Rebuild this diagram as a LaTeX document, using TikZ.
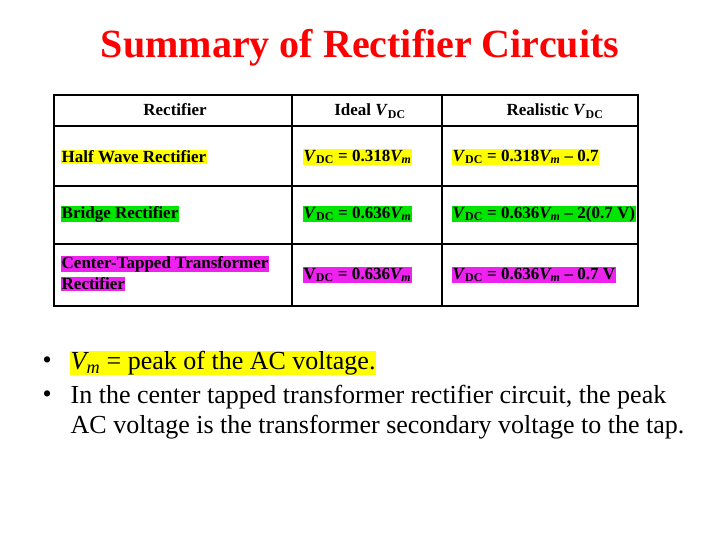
\documentclass[tikz,border=0pt]{standalone}
\usepackage{fontspec}
\setmainfont{Liberation Serif}
\begin{document}
\begin{tikzpicture}[x=1pt,y=-1pt,
  cell/.style={anchor=west,inner sep=0.5pt,font=\fontsize{17}{20}\bfseries\selectfont},
  hdr/.style={font=\fontsize{17}{20}\bfseries\selectfont},
  bul/.style={anchor=west,inner sep=0.5pt,font=\fontsize{26}{30}\selectfont},
  grid/.style={line width=1.3pt}]
\useasboundingbox (0,0) rectangle (720,540);
\definecolor{hy}{RGB}{255,255,0}
\definecolor{hg}{RGB}{0,230,0}
\definecolor{hm}{RGB}{238,34,238}
\newcommand{\VDC}{\textit{V}\textsubscript{DC}}
\newcommand{\Vm}{\textit{V\textsubscript{m}}}
\node[font=\fontsize{40}{44}\bfseries\selectfont,text=red] (title) at (360,48) {Summary of Rectifier Circuits};
\draw[grid] (54,95) rectangle (638,306);
\draw[grid] (54,126) -- (638,126);
\draw[grid] (54,186) -- (638,186);
\draw[grid] (54,244) -- (638,244);
\draw[grid] (292,95) -- (292,306);
\draw[grid] (442,95) -- (442,306);
\node[hdr] (h1) at (175,110) {Rectifier};
\node[hdr] (h2) at (370,111) {Ideal \VDC};
\node[hdr] (h3) at (555,111) {Realistic \VDC};
\node[cell,fill=hy] (a1) at (61,157) {Half Wave Rectifier};
\node[cell,fill=hy] (b1) at (303,157) {\VDC{} = 0.318\Vm};
\node[cell,fill=hy] (c1) at (452,157) {\VDC{} = 0.318\Vm{} – 0.7};
\node[cell,fill=hg] (a2) at (61,214) {Bridge Rectifier};
\node[cell,fill=hg] (b2) at (303,214) {\VDC{} = 0.636\Vm};
\node[cell,fill=hg] (c2) at (452,214) {\VDC{} = 0.636\Vm{} – 2(0.7 V)};
\node[cell,fill=hm] (a3a) at (61,264) {Center-Tapped Transformer};
\node[cell,fill=hm] (a3b) at (61,284) {Rectifier};
\node[cell,fill=hm] (b3) at (303,275) {V\textsubscript{DC} = 0.636\Vm};
\node[cell,fill=hm] (c3) at (452,275) {\VDC{} = 0.636\Vm{} – 0.7 V};
\node[bul] (d1) at (42,363) {•};
\node[bul,fill=hy] (t1) at (70,363) {\Vm{} = peak of the AC voltage.};
\node[bul] (d2) at (42,397) {•};
\node[bul] (t2) at (70,397) {In the center tapped transformer rectifier circuit, the peak};
\node[bul] (t3) at (70,427) {AC voltage is the transformer secondary voltage to the tap.};
\end{tikzpicture}
\end{document}
